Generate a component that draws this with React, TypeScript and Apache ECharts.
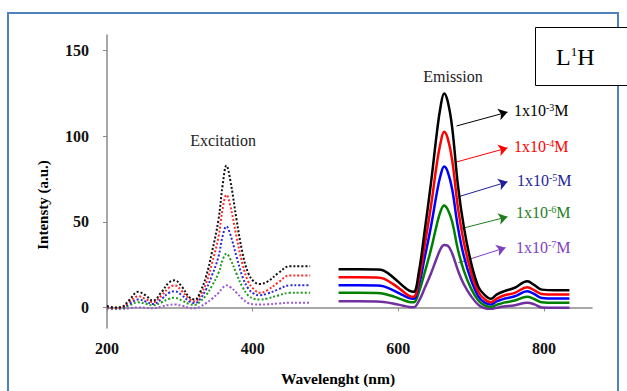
import React, { useEffect, useRef } from "react";
import * as echarts from "echarts";

// Excitation spectra (dotted)
const excWavelengths = [200, 210, 220, 230, 243, 253, 263, 275, 285, 293, 303, 313, 321, 328, 336, 344, 353, 359, 364, 369, 378, 386, 394, 402, 410, 420, 435, 451, 465, 479];
const excBlack = [0.8, 0, 0.3, 4, 9.1, 7, 4, 9, 14.5, 15.8, 12, 6, 4.6, 9, 18, 32, 51, 72, 82.8, 75, 51, 32, 20, 15, 13.7, 15, 20, 24, 24, 24];
const excRed = [0.5, -0.3, 0, 3, 6.5, 5, 3, 7, 11.5, 12.9, 9.5, 5, 3.5, 7, 14, 25.5, 41, 58, 65.7, 60, 41, 25.5, 15, 10.5, 8.5, 10, 14.5, 18.7, 18.7, 18.7];
const excBlue = [0.3, -0.5, -0.3, 2, 4.6, 3.5, 2, 5, 8.5, 9.4, 7, 3.5, 2.5, 5, 10.5, 18.5, 29.5, 42, 47.3, 43, 29.5, 18, 11, 8, 7.1, 8, 10.5, 12.9, 12.9, 12.9];
const excGreen = [0, -0.6, -0.5, 1, 3, 2.2, 1.2, 3, 5, 5.6, 4, 2, 1.5, 3.5, 7, 12.5, 20, 28, 31.4, 28.5, 19.5, 12, 7, 5, 4.6, 5.2, 7, 8.5, 8.5, 8.5];
const excPurple = [-0.5, -0.8, -0.8, -0.5, 0, -0.2, -0.5, 0.5, 1.5, 1.7, 1, -0.2, -0.5, 0.5, 2.5, 5, 8.5, 11.5, 12.9, 12, 8.5, 5, 2.5, 1.8, 1.7, 1.8, 2.3, 2.7, 2.7, 2.7];

// Emission spectra (solid)
const emWavelengths = [518, 545, 570, 580, 594, 607, 615, 621, 628, 636, 645, 653, 658, 663, 668, 674, 682, 690, 700, 710, 718, 727, 735, 745, 760, 777, 787, 797, 815, 835];
const emBlack = [22.3, 22.3, 22.2, 21.5, 17.2, 12.3, 9.8, 9.1, 20, 44, 73, 102, 117, 124.9, 120, 105, 71, 47, 26, 12, 7.5, 5, 7.5, 9.4, 11.5, 15.3, 13, 10.4, 10, 10];
const emRed = [17.6, 17.6, 17.5, 16.8, 13.3, 9.2, 6.8, 6.2, 15.5, 35.5, 59.5, 84, 96, 102.6, 98.5, 86, 58, 38, 20.5, 9, 5, 3, 5, 7, 8.5, 11.8, 10, 7.8, 7.5, 7.5];
const emBlue = [12.9, 12.9, 12.8, 12.3, 9.8, 7, 5.4, 5, 12.5, 28.5, 47.5, 67, 77, 82.2, 79, 69, 46.5, 30, 16, 6.5, 3, 1.7, 3.5, 5, 6.5, 9.4, 7.8, 5.5, 5.2, 5.2];
const emGreen = [8.5, 8.5, 8.4, 8, 6.3, 4.3, 3.2, 3, 8.5, 20, 34, 48.5, 56, 59.5, 57, 50, 33.5, 21.5, 11, 4, 1.3, 0.3, 1.5, 2.8, 4, 6.2, 4.8, 3, 2.7, 2.7];
const emPurple = [3.6, 3.6, 3.5, 3.2, 2.2, 1, 0.3, 0.1, 3.5, 11, 20, 29, 34, 36.4, 36, 31.5, 21.5, 13.5, 6.5, 1.5, -0.3, -0.8, -0.2, 0.5, 1.3, 2.7, 1.8, 0, -0.2, -0.2];

const concExponents = ["-3", "-4", "-5", "-6", "-7"];
const arrowStarts = [[680, 105.9], [680, 84.9], [682.6, 64.6], [685.4, 45.9], [682.6, 26.1]];
const arrowEnds = [[750, 114], [750, 93.1], [750, 73.3], [750, 52.9], [747.3, 34.9]];

const xTicks = [200, 400, 600, 800];
const yTicks = [0, 50, 100, 150];

const excColors = ["#111111", "#ff2a2a", "#2a2ad8", "#1f9a1f", "#9a5ad0"];
const emColors = ["#000000", "#ff0000", "#0000ff", "#008000", "#7030a0"];
const textColors = ["#000000", "#ff0000", "#1f1f9a", "#1e7e1e", "#7f3fbf"];
const labelPos = [[514, 110], [514, 146], [517, 180], [516, 212], [516, 247]];

const SERIF = "'Liberation Serif', 'Times New Roman', serif";

function pair(xs: number[], ys: number[]) {
  return xs.map((x, i) => [x, ys[i]]);
}

export default function App() {
  const ref = useRef<HTMLDivElement>(null);
  useEffect(() => {
    if (!ref.current) return;
    const chart = echarts.init(ref.current, null, { renderer: "svg" });
    const exc = [excBlack, excRed, excBlue, excGreen, excPurple];
    const em = [emBlack, emRed, emBlue, emGreen, emPurple];
    const series: any[] = [];
    exc.forEach((vals, i) => {
      series.push({
        type: "line",
        smooth: 0.4,
        showSymbol: false,
        data: pair(excWavelengths, vals),
        lineStyle: { color: excColors[i], width: 2, type: [2, 2] },
        z: 5 - i,
      });
    });
    em.forEach((vals, i) => {
      series.push({
        type: "line",
        smooth: 0.4,
        showSymbol: false,
        data: pair(emWavelengths, vals),
        lineStyle: { color: emColors[i], width: 2.5 },
        z: 10 - i,
        markLine: {
          silent: true,
          symbol: ["none", "arrow"],
          symbolSize: 9,
          label: { show: false },
          lineStyle: { color: textColors[i], width: 1, type: "solid" },
          data: [[{ coord: arrowStarts[i] }, { coord: arrowEnds[i] }]],
        },
      });
    });

    const graphics: any[] = [
      {
        type: "rect",
        shape: { x: 8, y: 13, width: 610, height: 420 },
        style: { fill: "none", stroke: "#4f81bd", lineWidth: 2 },
        silent: true,
      },
      {
        type: "rect",
        shape: { x: 535.5, y: 27.5, width: 120, height: 58 },
        style: { fill: "#ffffff", stroke: "#000000", lineWidth: 1 },
        z: 100,
      },
      {
        type: "text",
        x: 556,
        y: 57,
        z: 101,
        style: {
          text: "L{s|1}H",
          fontFamily: SERIF,
          fontSize: 24,
          fill: "#000",
          align: "left",
          verticalAlign: "middle",
          textAlign: "left",
          textVerticalAlign: "middle",
          rich: { s: { fontSize: 13, fontFamily: SERIF, verticalAlign: "top", lineHeight: 12, fill: "#000" } },
        },
      },
      {
        type: "text",
        x: 223,
        y: 140,
        style: { text: "Excitation", fontFamily: SERIF, fontSize: 16, fill: "#222", align: "center", verticalAlign: "middle", textAlign: "center", textVerticalAlign: "middle" },
      },
      {
        type: "text",
        x: 453,
        y: 76,
        style: { text: "Emission", fontFamily: SERIF, fontSize: 16, fill: "#222", align: "center", verticalAlign: "middle", textAlign: "center", textVerticalAlign: "middle" },
      },
      {
        type: "text",
        x: 338,
        y: 378,
        style: { text: "Wavelenght (nm)", fontFamily: SERIF, fontWeight: "bold", fontSize: 15.5, fill: "#000", align: "center", verticalAlign: "middle", textAlign: "center", textVerticalAlign: "middle" },
      },
      {
        type: "text",
        x: 43,
        y: 205,
        rotation: Math.PI / 2,
        style: { text: "Intensty (a.u.)", fontFamily: SERIF, fontWeight: "bold", fontSize: 15, fill: "#000", align: "center", verticalAlign: "middle", textAlign: "center", textVerticalAlign: "middle" },
      },
    ];
    concExponents.forEach((e, i) => {
      graphics.push({
        type: "text",
        x: labelPos[i][0],
        y: labelPos[i][1],
        style: {
          text: "1x10{s|" + e + "}M",
          fontFamily: SERIF,
          fontSize: 16,
          fill: textColors[i],
          align: "left",
          verticalAlign: "middle",
          textAlign: "left",
          textVerticalAlign: "middle",
          rich: { s: { fontSize: 10, fontFamily: SERIF, verticalAlign: "top", lineHeight: 10, fill: textColors[i] } },
        },
      });
    });

    chart.setOption({
      animation: false,
      backgroundColor: "#ffffff",
      grid: { left: 107, right: 35, top: 35, bottom: 63 },
      xAxis: {
        type: "value",
        min: 200,
        max: 866,
        splitLine: { show: false },
        axisLine: { lineStyle: { color: "#8a8a8a", width: 1.5 } },
        axisTick: { show: true, length: 4, customValues: xTicks, lineStyle: { color: "#8a8a8a" } },
        axisLabel: { customValues: xTicks, margin: 12, fontFamily: SERIF, fontWeight: "bold", fontSize: 16, color: "#111" },
      },
      yAxis: {
        type: "value",
        min: -12,
        max: 159,
        splitLine: { show: false },
        axisLine: { show: true, onZero: false, lineStyle: { color: "#8a8a8a", width: 1.5 } },
        axisTick: { show: true, length: 4, customValues: yTicks, lineStyle: { color: "#8a8a8a" } },
        axisLabel: { customValues: yTicks, margin: 18, fontFamily: SERIF, fontWeight: "bold", fontSize: 16, color: "#111" },
      },
      series,
      graphic: graphics,
    });
    return () => chart.dispose();
  }, []);
  return <div ref={ref} style={{ position: "fixed", left: 0, top: 0, width: 627, height: 391 }} />;
}
